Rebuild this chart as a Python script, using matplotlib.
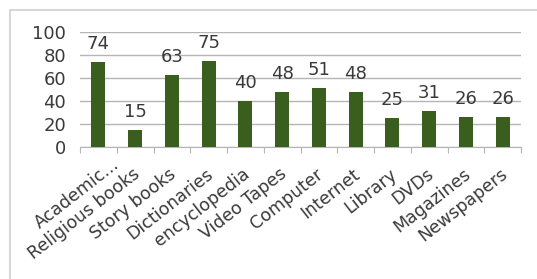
import matplotlib
matplotlib.use("Agg")
import matplotlib.pyplot as plt
from matplotlib.patches import Rectangle
from matplotlib.transforms import ScaledTranslation

categories = ["Academic...", "Religious books", "Story books", "Dictionaries",
              "encyclopedia", "Video Tapes", "Computer", "Internet", "Library",
              "DVDs", "Magazines", "Newspapers"]
values = [74, 15, 63, 75, 40, 48, 51, 48, 25, 31, 26, 26]
yticks = [0, 20, 40, 60, 80, 100]

plt.rcParams['font.family'] = ['DejaVu Sans']

W, H = 537, 279
fig = plt.figure(figsize=(W / 100, H / 100), dpi=100)
fig.patch.set_facecolor("white")

# outer frame (left and top visible)
fig.add_artist(Rectangle((10 / W, -0.05), 1.1, (H - 10) / H + 0.05,
                         transform=fig.transFigure, fill=False,
                         edgecolor="#d0d0d0", linewidth=1.2))

ax = fig.add_axes([80 / W, 1 - 147 / H, (521 - 80) / W, (147 - 32) / H])
x = list(range(len(categories)))
ax.bar(x, values, width=0.38, color="#3a5e1d", zorder=3)
ax.set_xlim(-0.5, len(categories) - 0.5)
ax.set_ylim(0, 100)
ax.set_yticks(yticks)
ax.tick_params(axis='y', length=0, labelsize=13, pad=10, colors="#3a3a3a")
ax.yaxis.grid(True, color="#b5b5b5", linewidth=1, zorder=0)
for s in ["top", "right", "left"]:
    ax.spines[s].set_visible(False)
ax.spines["bottom"].set_color("#b5b5b5")

ax.set_xticks([i - 0.5 for i in range(len(categories) + 1)], minor=False)
ax.set_xticklabels([])
ax.tick_params(axis='x', which='major', length=4, color="#b5b5b5")
ax.set_xticks(x, minor=True)
ax.set_xticklabels(categories, minor=True, rotation=38, ha='right',
                   va='top', fontsize=12.5, color="#3a3a3a")
ax.tick_params(axis='x', which='minor', length=0, pad=13)

labels = ax.get_xticklabels(minor=True)
for i, lab in enumerate(labels):
    if i == 0:
        off = ScaledTranslation(24 / 100, 10 / 100, fig.dpi_scale_trans)
    else:
        off = ScaledTranslation(8 / 100, 0, fig.dpi_scale_trans)
    lab.set_transform(lab.get_transform() + off)

for i, v in zip(x, values):
    ax.annotate(str(v), (i, v), xytext=(0, 13), textcoords='offset pixels',
                ha='center', va='baseline', fontsize=13, color="#3a3a3a")

fig.savefig("out.png", dpi=100)
